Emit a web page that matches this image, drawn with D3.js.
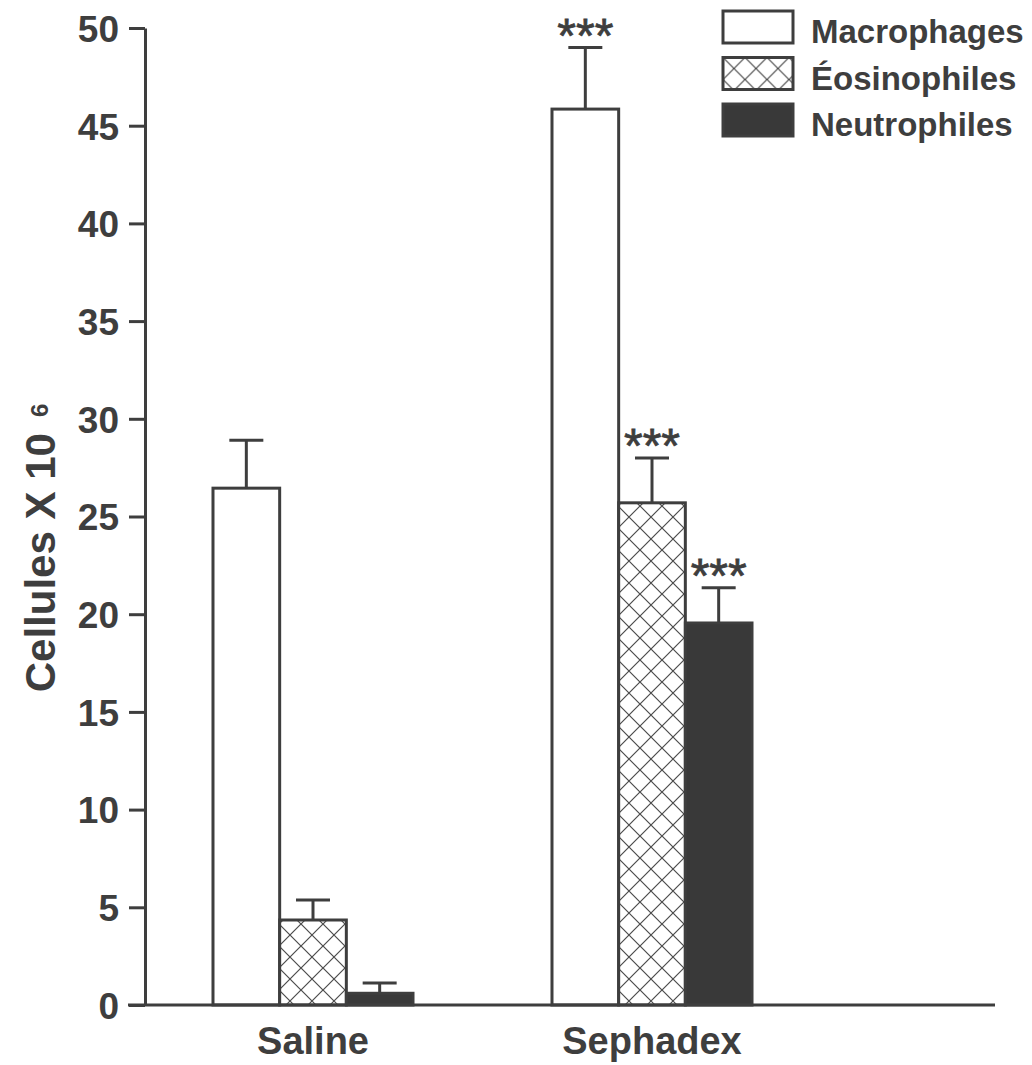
<!DOCTYPE html>
<html><head><meta charset="utf-8">
<script src="https://cdn.jsdelivr.net/npm/d3@7/dist/d3.min.js"></script>
<style>body{margin:0;background:#fff}svg{display:block}</style>
</head><body>
<svg id="c" width="1032" height="1065"></svg>
<script>
const groups = ["Saline", "Sephadex"];
const series = ["Macrophages", "Éosinophiles", "Neutrophiles"];
const values = {
  "Saline":   [26.45, 4.35, 0.6],
  "Sephadex": [45.85, 25.7, 19.55]
};
const errors = {
  "Saline":   [2.45, 1.02, 0.52],
  "Sephadex": [3.15, 2.3, 1.8]
};
const signif = {
  "Saline":   ["", "", ""],
  "Sephadex": ["***", "***", "***"]
};
const yTicks = [0, 5, 10, 15, 20, 25, 30, 35, 40, 45, 50];

const ink = "#3e3e3e";
const font = "Liberation Sans, Arial, sans-serif";
const svg = d3.select("#c");
const defs = svg.append("defs");
const pat = defs.append("pattern").attr("id","hatch").attr("patternUnits","userSpaceOnUse")
  .attr("width",22).attr("height",22).attr("x",0).attr("y",0);
pat.append("rect").attr("width",22).attr("height",22).attr("fill","#fff");
pat.append("path").attr("d","M0,0L22,22M22,0L0,22").attr("stroke","#4a4a4a").attr("stroke-width",1.2);

const fills = ["#ffffff", "url(#hatch)", "#393939"];

const y = d3.scaleLinear().domain([0, 50]).range([1005, 28]);
const x0 = d3.scaleBand().domain(groups).range([143.5, 821.5]).paddingInner(0.41).paddingOuter(0.205);
const x1 = d3.scaleBand().domain(series).range([0, x0.bandwidth()]);

// Y axis
const yAxis = svg.append("g").attr("transform","translate(145,0)")
  .call(d3.axisLeft(y).tickValues(yTicks).tickSize(16).tickPadding(10).tickSizeOuter(0));
yAxis.select(".domain").attr("stroke", ink).attr("stroke-width", 3);
yAxis.selectAll(".tick line").attr("stroke", ink).attr("stroke-width", 3);
yAxis.selectAll(".tick text").attr("fill", ink).attr("font-family", font)
  .attr("font-weight","bold").attr("font-size",37).attr("dy","0.36em");

// Bars
const gg = svg.selectAll(".grp").data(groups).join("g").attr("class","grp")
  .attr("transform", d => `translate(${x0(d)},0)`);

const rows = g => series.map((s,i) => ({g, s, i, v: values[g][i], e: errors[g][i], sig: signif[g][i]}));

gg.selectAll("rect.bar").data(d => rows(d)).join("rect").attr("class","bar")
  .attr("x", d => x1(d.s)).attr("width", x1.bandwidth())
  .attr("y", d => y(d.v)).attr("height", d => y(0) - y(d.v))
  .attr("fill", d => fills[d.i]).attr("stroke", ink).attr("stroke-width", 3);

// Error bars
const eb = gg.selectAll("g.err").data(d => rows(d)).join("g").attr("class","err");
eb.append("line")
  .attr("x1", d => x1(d.s) + x1.bandwidth()/2).attr("x2", d => x1(d.s) + x1.bandwidth()/2)
  .attr("y1", d => y(d.v)).attr("y2", d => y(d.v + d.e))
  .attr("stroke", ink).attr("stroke-width", 3);
eb.append("line")
  .attr("x1", d => x1(d.s) + x1.bandwidth()/2 - 17).attr("x2", d => x1(d.s) + x1.bandwidth()/2 + 17)
  .attr("y1", d => y(d.v + d.e)).attr("y2", d => y(d.v + d.e))
  .attr("stroke", ink).attr("stroke-width", 3);
eb.append("text")
  .attr("x", d => x1(d.s) + x1.bandwidth()/2).attr("y", d => y(d.v + d.e) + 4)
  .attr("text-anchor","middle").attr("fill", ink).attr("stroke", ink).attr("stroke-width", 0.8)
  .attr("font-family", font).attr("font-size",48)
  .text(d => d.sig);

// X axis
const xAxis = svg.append("g").attr("transform","translate(0,1005)")
  .call(d3.axisBottom(x0).tickSize(0).tickPadding(22));
xAxis.select(".domain").remove();
svg.append("line").attr("x1",128).attr("x2",995).attr("y1",1005).attr("y2",1005)
  .attr("stroke", ink).attr("stroke-width",3);
xAxis.selectAll(".tick text").attr("fill", ink).attr("font-family", font)
  .attr("font-weight","bold").attr("font-size",38).attr("dy","0.72em");

// Y label
const yl = svg.append("text").attr("transform","translate(55,548) rotate(-90)")
  .attr("text-anchor","middle").attr("fill", ink)
  .attr("font-family", font).attr("font-weight","bold").attr("font-size",42);
yl.append("tspan").text("Cellules X 10");
yl.append("tspan").attr("font-size",24).attr("dx",16).attr("dy",-7).text("6");

// Legend
const lg = svg.append("g").selectAll("g").data(series).join("g")
  .attr("transform", (d,i) => `translate(723,${11 + i*46.5})`);
lg.append("rect").attr("width",70).attr("height",32)
  .attr("fill", (d,i) => fills[i]).attr("stroke", ink).attr("stroke-width",3);
lg.append("text").attr("x",88).attr("y",32).attr("fill", ink)
  .attr("font-family", font).attr("font-weight","bold").attr("font-size",33)
  .text(d => d);
</script>
</body></html>
